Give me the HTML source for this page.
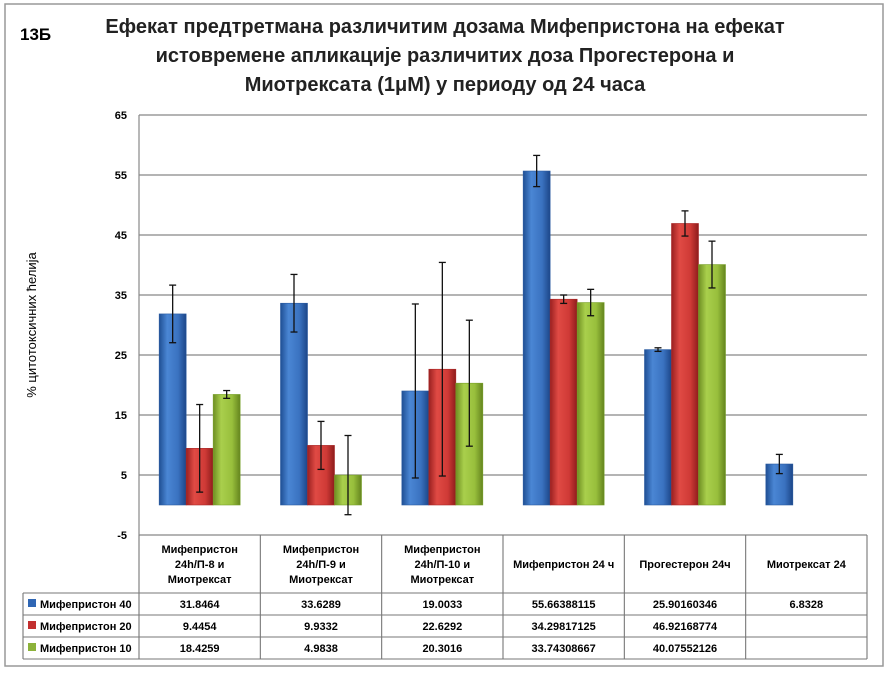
<!DOCTYPE html>
<html><head><meta charset="utf-8"><style>
body{margin:0;background:#fff;font-family:"Liberation Sans",sans-serif}
</style></head><body>
<svg width="890" height="673" viewBox="0 0 890 673" xmlns="http://www.w3.org/2000/svg" font-family="Liberation Sans, sans-serif">
<defs>
<linearGradient id="gb" x1="0" x2="1"><stop offset="0" stop-color="#1f4f94"/><stop offset="0.3" stop-color="#4a86d4"/><stop offset="0.7" stop-color="#3a72c0"/><stop offset="1" stop-color="#1c4688"/></linearGradient>
<linearGradient id="gr" x1="0" x2="1"><stop offset="0" stop-color="#9a2020"/><stop offset="0.3" stop-color="#e04a44"/><stop offset="0.7" stop-color="#cf3a36"/><stop offset="1" stop-color="#8e1c1c"/></linearGradient>
<linearGradient id="gg" x1="0" x2="1"><stop offset="0" stop-color="#6e8e22"/><stop offset="0.3" stop-color="#a9cf4c"/><stop offset="0.7" stop-color="#98bf3c"/><stop offset="1" stop-color="#64841e"/></linearGradient>
</defs>
<rect x="5" y="4" width="878" height="662" fill="#fff" stroke="#999" stroke-width="1.5"/>
<text x="20" y="40" font-size="17" font-weight="bold">13Б</text>
<g font-size="20" font-weight="bold" text-anchor="middle" fill="#222">
<text x="445" y="33">Ефекат предтретмана различитим дозама Мифепристона на ефекат</text>
<text x="445" y="62">истовремене апликације различитих доза Прогестерона и</text>
<text x="445" y="91">Миотрексата (1μM) у периоду од 24 часа</text>
</g>
<text transform="translate(36,325) rotate(-90)" font-size="13" text-anchor="middle">% цитотоксичних ћелија</text>
<g id="grid"></g><g id="bars"></g><g id="tbl"></g>
</svg>
<script>
const categories=["Мифепристон|24h/П-8 и|Миотрексат","Мифепристон|24h/П-9 и|Миотрексат","Мифепристон|24h/П-10 и|Миотрексат","Мифепристон 24 ч","Прогестерон 24ч","Миотрексат 24"];
const seriesNames=["Мифепристон 40","Мифепристон 20","Мифепристон 10"];
const s40=[31.8464,33.6289,19.0033,55.66388115,25.90160346,6.8328];
const s20=[9.4454,9.9332,22.6292,34.29817125,46.92168774,null];
const s10=[18.4259,4.9838,20.3016,33.74308667,40.07552126,null];
const e40=[4.8,4.8,14.5,2.6,0.3,1.6];
const e20=[7.3,4.0,17.8,0.7,2.1,null];
const e10=[0.65,6.6,10.5,2.2,3.9,null];
const labels40=["31.8464","33.6289","19.0033","55.66388115","25.90160346","6.8328"];
const labels20=["9.4454","9.9332","22.6292","34.29817125","46.92168774",""];
const labels10=["18.4259","4.9838","20.3016","33.74308667","40.07552126",""];
const yTicks=[65,55,45,35,25,15,5,-5];
const NS="http://www.w3.org/2000/svg";
const L=139,R=867,yMin=-5,yMax=65,T=115,B=535;
const y=v=>B-(v-yMin)/(yMax-yMin)*(B-T);
const cw=(R-L)/categories.length;
const bw=27;
function mk(tag,attrs,parent){const e=document.createElementNS(NS,tag);for(const k in attrs)e.setAttribute(k,attrs[k]);parent.appendChild(e);return e;}
const grid=document.getElementById('grid');
yTicks.forEach(t=>{
 const ln=mk('line',{x1:L,x2:R,y1:y(t),y2:y(t),stroke:'#888','stroke-width':1.2},grid);
 
 
 const tx=mk('text',{x:L-12,y:y(t)+4,'font-size':11,'font-weight':'bold','text-anchor':'end'},grid);
 tx.textContent=t;
 
 
});
const ax=mk('line',{x1:L,x2:L,y1:T,y2:B,stroke:'#888','stroke-width':1.2},grid);


const bars=document.getElementById('bars');
const series=[[s40,e40,'url(#gb)','#2a5aa0'],[s20,e20,'url(#gr)','#a82828'],[s10,e10,'url(#gg)','#78a02a']];
categories.forEach((c,i)=>{
 const cx=L+cw*i+cw/2;
 series.forEach((s,j)=>{
  const v=s[0][i]; if(v==null)return;
  const x0=cx-1.5*bw+j*bw;
  const r=mk('rect',{x:x0,y:y(v),width:bw,height:y(0)-y(v),fill:s[2],stroke:s[3],'stroke-width':0.6},bars);
  
  
  const e=s[1][i]; const ex=x0+bw/2;
  const g=mk('g',{stroke:'#111','stroke-width':1.3},bars);
  
  
  mk('line',{x1:ex,x2:ex,y1:y(v+e),y2:y(v-e)},g);
  mk('line',{x1:ex-3.5,x2:ex+3.5,y1:y(v+e),y2:y(v+e)},g);
  mk('line',{x1:ex-3.5,x2:ex+3.5,y1:y(v-e),y2:y(v-e)},g);
 });
});
const tbl=document.getElementById('tbl');
const rows=[593,615,637,659];
const col='#777';
function ln(x1,y1,x2,y2){const l=mk('line',{x1,y1,x2,y2,stroke:col,'stroke-width':1.1},tbl);}
ln(L,B,L,659);ln(R,B,R,659);ln(23,593,23,659);
for(let i=1;i<categories.length;i++)ln(L+cw*i,B,L+cw*i,659);
rows.forEach(r=>ln(r===593?23:23,r,R,r));
categories.forEach((c,i)=>{
 const cx=L+cw*i+cw/2; const parts=c.split('|');
 parts.forEach((p,k)=>{
  const t=mk('text',{x:cx,y:564+(k-(parts.length-1)/2)*15+4,'font-size':11,'font-weight':'bold','text-anchor':'middle'},tbl);
  t.textContent=p;
  
  
 });
});
const lbls=[labels40,labels20,labels10];
const sw=['#2f66b4','#c22f2f','#8cb23a'];
seriesNames.forEach((n,j)=>{
 const cy=rows[j]+11;
 const s=mk('rect',{x:28,y:cy-5,width:8,height:8,fill:sw[j]},tbl);
 
 
 const t=mk('text',{x:40,y:cy+4,'font-size':11,'font-weight':'bold'},tbl);
 t.textContent=n;
 
 
 lbls[j].forEach((v,i)=>{
  const d=mk('text',{x:L+cw*i+cw/2,y:cy+4,'font-size':11,'font-weight':'bold','text-anchor':'middle'},tbl);
  d.textContent=v;
  
  
 });
});
</script>
</body></html>
